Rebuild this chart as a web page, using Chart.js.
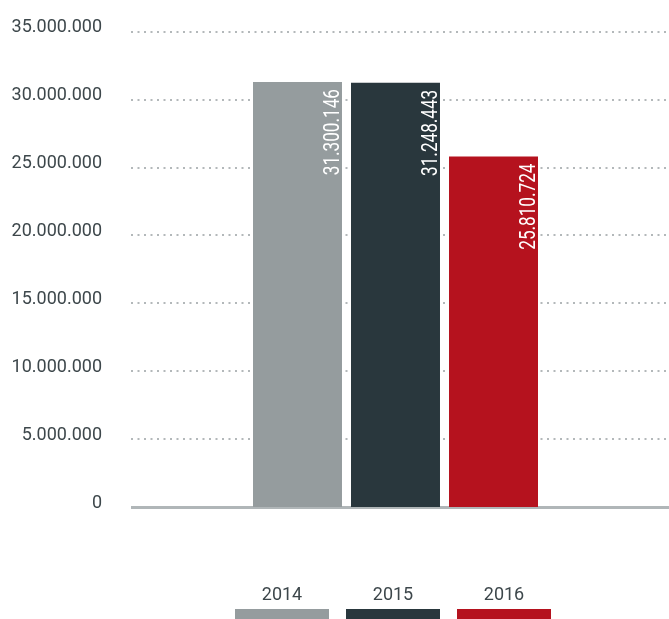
<!DOCTYPE html>
<html>
<head>
<meta charset="utf-8">
<script src="https://cdn.jsdelivr.net/npm/chart.js@4/dist/chart.umd.min.js"></script>
<style>
  html, body { margin: 0; padding: 0; background: #fff; }
  #wrap { width: 669px; height: 619px; position: relative; }
</style>
</head>
<body>
<div id="wrap"><canvas id="chart"></canvas></div>
<script>
// ── data ──
const years = ['2014', '2015', '2016'];
const values = [31300146, 31248443, 25810724];
const colors = ['#959c9e', '#29373d', '#b5121e'];
const yMax = 35000000;
const yStep = 5000000;

const TEXT = '#3d474b';
const GRID = '#b3b8ba';

const fmt = v => String(v).replace(/\B(?=(\d{3})+(?!\d))/g, '.');

// dotted grid + solid baseline, full width to canvas edge
const gridPlugin = {
  id: 'dotGrid',
  beforeDatasetsDraw(chart) {
    const { ctx, chartArea, scales: { y } } = chart;
    ctx.save();
    y.ticks.forEach(t => {
      const py = Math.round(y.getPixelForValue(t.value));
      if (t.value === 0) return;
      ctx.beginPath();
      ctx.strokeStyle = GRID;
      ctx.lineWidth = 2;
      ctx.setLineDash([2, 4.5]);
      ctx.moveTo(chartArea.left, py);
      ctx.lineTo(chart.width, py);
      ctx.stroke();
    });
    ctx.setLineDash([]);
    const py0 = y.getPixelForValue(0);
    ctx.beginPath();
    ctx.strokeStyle = '#b0b6b8';
    ctx.lineWidth = 3;
    ctx.moveTo(chartArea.left, py0 + 0.5);
    ctx.lineTo(chart.width, py0 + 0.5);
    ctx.stroke();
    ctx.restore();
  }
};

// rotated value labels inside the bars (read bottom to top, ending near the top)
const barLabels = {
  id: 'barLabels',
  afterDatasetsDraw(chart) {
    const { ctx } = chart;
    ctx.save();
    chart.data.datasets.forEach((ds, i) => {
      const bar = chart.getDatasetMeta(i).data[0];
      if (!bar) return;
      ctx.save();
      ctx.translate(bar.x + bar.width / 2 - 3, bar.y + 7);
      ctx.rotate(-Math.PI / 2);
      ctx.scale(0.78, 1);
      ctx.font = '22px Roboto, "Noto Sans", sans-serif';
      ctx.fillStyle = '#ffffff';
      ctx.textAlign = 'right';
      ctx.textBaseline = 'alphabetic';
      ctx.fillText(fmt(ds.data[0]), 0, 0);
      ctx.restore();
    });
    ctx.restore();
  }
};

// legend: year text above a flat colour bar
const bottomLegend = {
  id: 'bottomLegend',
  afterDraw(chart) {
    const { ctx } = chart;
    const mid = chart.getDatasetMeta(1).data[0].x - 2.5;
    const gap = 111, boxW = 94, boxH = 10;
    ctx.save();
    chart.data.datasets.forEach((ds, i) => {
      const cx = mid + (i - 1) * gap;
      ctx.fillStyle = ds.backgroundColor;
      ctx.fillRect(Math.round(cx - boxW / 2), chart.height - boxH, boxW, boxH);
      ctx.fillStyle = TEXT;
      ctx.font = '18px Roboto, "Noto Sans", sans-serif';
      ctx.textAlign = 'center';
      ctx.textBaseline = 'middle';
      ctx.fillText(ds.label, cx, 595);
    });
    ctx.restore();
  }
};

new Chart(document.getElementById('chart').getContext('2d'), {
  type: 'bar',
  data: {
    labels: [''],
    datasets: years.map((yr, i) => ({
      label: yr,
      data: [values[i]],
      backgroundColor: colors[i],
      borderWidth: 0
    }))
  },
  options: {
    responsive: true,
    maintainAspectRatio: false,
    animation: false,
    categoryPercentage: 0.5558,
    barPercentage: 0.908,
    layout: { padding: { top: 19, right: 9, bottom: 112, left: 0 } },
    scales: {
      x: { display: false },
      y: {
        min: 0,
        max: yMax,
        grid: { display: false },
        border: { display: false },
        afterFit: s => { s.width = 131; },
        ticks: {
          stepSize: yStep,
          padding: 21,
          labelOffset: -4,
          color: TEXT,
          font: { family: 'Roboto', size: 18 },
          callback: v => fmt(v)
        }
      }
    },
    plugins: {
      legend: { display: false },
      tooltip: { enabled: false }
    }
  },
  plugins: [gridPlugin, barLabels, bottomLegend]
});
</script>
</body>
</html>
